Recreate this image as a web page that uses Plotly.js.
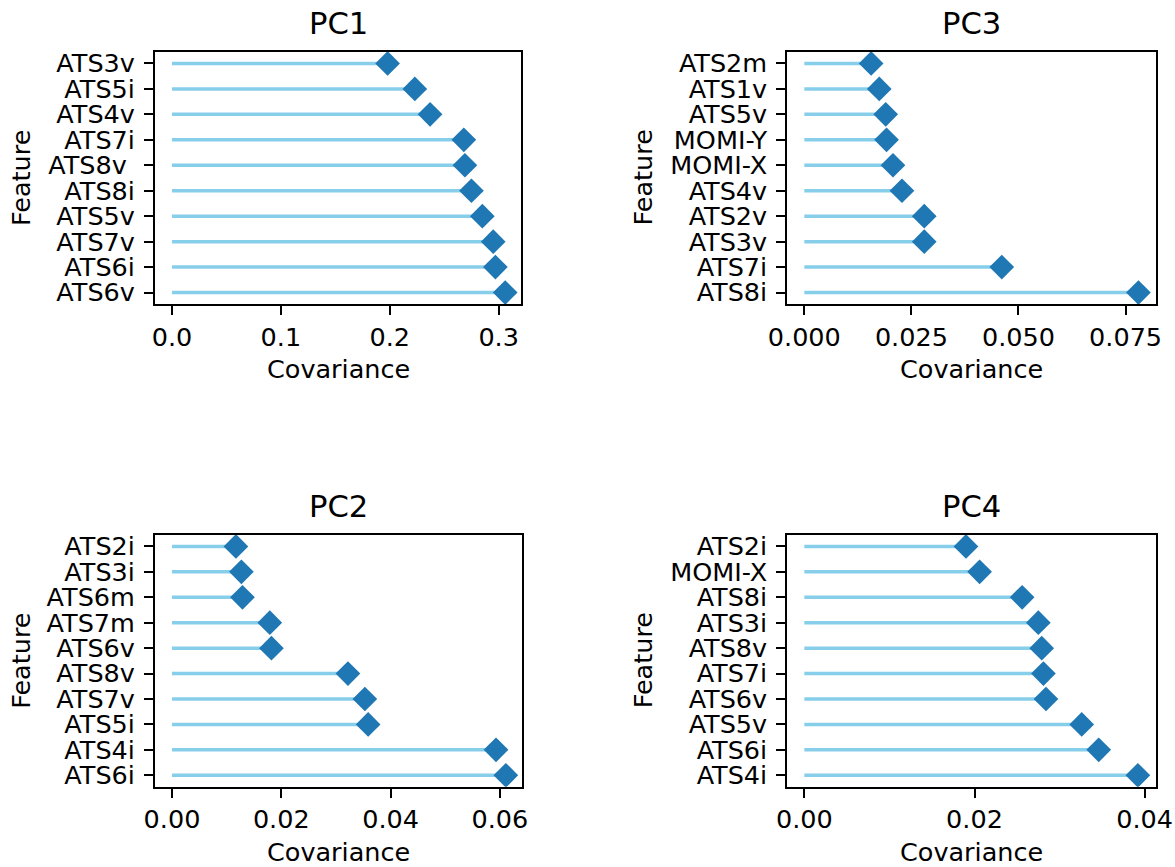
<!DOCTYPE html>
<html>
<head>
<meta charset="utf-8">
<script src="https://cdn.plot.ly/plotly-3.0.1.min.js"></script>
<style>html,body{margin:0;padding:0;background:#fff;}#chart{width:1175px;height:867px;}</style>
</head>
<body>
<div id="chart"></div>
<script>
// ---- Data (features listed top to bottom) ----
const pc1Features = ['ATS3v','ATS5i','ATS4v','ATS7i','ATS8v\u00a0','ATS8i','ATS5v','ATS7v','ATS6i','ATS6v'];
const pc1Values   = [0.198, 0.223, 0.237, 0.268, 0.269, 0.275, 0.285, 0.295, 0.297, 0.306];

const pc3Features = ['ATS2m','ATS1v','ATS5v','MOMI-Y','MOMI-X','ATS4v','ATS2v','ATS3v','ATS7i','ATS8i'];
const pc3Values   = [0.0156, 0.0175, 0.0190, 0.0192, 0.0207, 0.0228, 0.0280, 0.0280, 0.0461, 0.0780];

const pc2Features = ['ATS2i','ATS3i','ATS6m','ATS7m','ATS6v','ATS8v','ATS7v','ATS5i','ATS4i','ATS6i'];
const pc2Values   = [0.0117, 0.0127, 0.0129, 0.0179, 0.0182, 0.0322, 0.0353, 0.0359, 0.0593, 0.0611];

const pc4Features = ['ATS2i','MOMI-X','ATS8i','ATS3i','ATS8v','ATS7i','ATS6v','ATS5v','ATS6i','ATS4i'];
const pc4Values   = [0.0190, 0.0206, 0.0256, 0.0275, 0.0279, 0.0281, 0.0284, 0.0326, 0.0346, 0.0392];

const panelTitles = ['PC1','PC3','PC2','PC4'];
const xTitle = 'Covariance';
const yTitle = 'Feature';

// ---- Layout / style ----
const W = 1175, H = 867;
const FONT = 'DejaVu Sans, sans-serif';
const TICK_SIZE = 25.5, TITLE_SIZE = 30.6;
const STEM = '#87CEEB', MARK = '#1f77b4';

const panels = [
  {f: pc1Features, v: pc1Values, title: panelTitles[0], px: [155, 521],   py: [52, 304],    range: [-0.0156, 0.3205], dtick: 0.1,   fmt: '.1f', ytx: 21},
  {f: pc3Features, v: pc3Values, title: panelTitles[1], px: [787.3, 1156], py: [52, 304],   range: [-0.00397, 0.0821], dtick: 0.025, fmt: '.3f', ytx: 642.5},
  {f: pc2Features, v: pc2Values, title: panelTitles[2], px: [155, 521.7], py: [535, 786.7], range: [-0.00311, 0.0640], dtick: 0.02,  fmt: '.2f', ytx: 21},
  {f: pc4Features, v: pc4Values, title: panelTitles[3], px: [787.3, 1156], py: [535, 786.7], range: [-0.0020, 0.04133], dtick: 0.02, fmt: '.2f', ytx: 642.5}
];

const data = [];
const layout = {
  width: W, height: H,
  margin: {l: 0, r: 0, t: 0, b: 0},
  paper_bgcolor: '#fff', plot_bgcolor: '#fff',
  showlegend: false, hovermode: false,
  font: {family: FONT, color: '#000', size: TICK_SIZE},
  annotations: []
};

panels.forEach((p, i) => {
  const k = i === 0 ? '' : String(i + 1);
  const xa = 'x' + k, ya = 'y' + k;
  // stems
  const lx = [], ly = [];
  p.f.forEach((name, j) => { lx.push(0, p.v[j], null); ly.push(name, name, null); });
  data.push({type: 'scatter', mode: 'lines', x: lx, y: ly, xaxis: xa, yaxis: ya,
             line: {color: STEM, width: 3.5}, hoverinfo: 'skip'});
  // markers
  data.push({type: 'scatter', mode: 'markers', x: p.v, y: p.f, xaxis: xa, yaxis: ya,
             marker: {symbol: 'diamond', size: 19, color: MARK, line: {width: 0}}});

  const xd = [p.px[0] / W, p.px[1] / W];
  const yd = [1 - p.py[1] / H, 1 - p.py[0] / H];
  const axBase = {showline: true, mirror: true, linecolor: '#000', linewidth: 2,
                  showgrid: false, zeroline: false, ticks: 'outside', ticklen: 9, tickwidth: 2,
                  tickcolor: '#000', tickfont: {family: FONT, size: TICK_SIZE, color: '#000'}, fixedrange: true};
  layout['xaxis' + k] = Object.assign({}, axBase, {domain: xd, anchor: ya, range: p.range,
                  tick0: 0, dtick: p.dtick, tickformat: p.fmt});
  layout['yaxis' + k] = Object.assign({}, axBase, {domain: yd, anchor: xa, type: 'category',
                  categoryorder: 'array', categoryarray: p.f, range: [p.f.length - 1 + 0.45, -0.45],
                  tickmode: 'array', tickvals: p.f, ticktext: p.f, ticklabelstandoff: 4});
  const xc = (xd[0] + xd[1]) / 2, yc = (yd[0] + yd[1]) / 2;
  layout.annotations.push(
    {text: p.title, xref: 'paper', yref: 'paper', x: xc, y: yd[1], xanchor: 'center', yanchor: 'bottom',
     yshift: 9, showarrow: false, font: {family: FONT, size: TITLE_SIZE, color: '#000'}},
    {text: xTitle, xref: 'paper', yref: 'paper', x: xc, y: yd[0], xanchor: 'center', yanchor: 'top',
     yshift: -48, showarrow: false, font: {family: FONT, size: TICK_SIZE, color: '#000'}},
    {text: yTitle, xref: 'paper', yref: 'paper', x: p.ytx / W, y: yc, xanchor: 'center', yanchor: 'middle',
     textangle: -90, showarrow: false, font: {family: FONT, size: TICK_SIZE, color: '#000'}}
  );
});

Plotly.newPlot('chart', data, layout, {displayModeBar: false, staticPlot: true});
</script>
</body>
</html>
